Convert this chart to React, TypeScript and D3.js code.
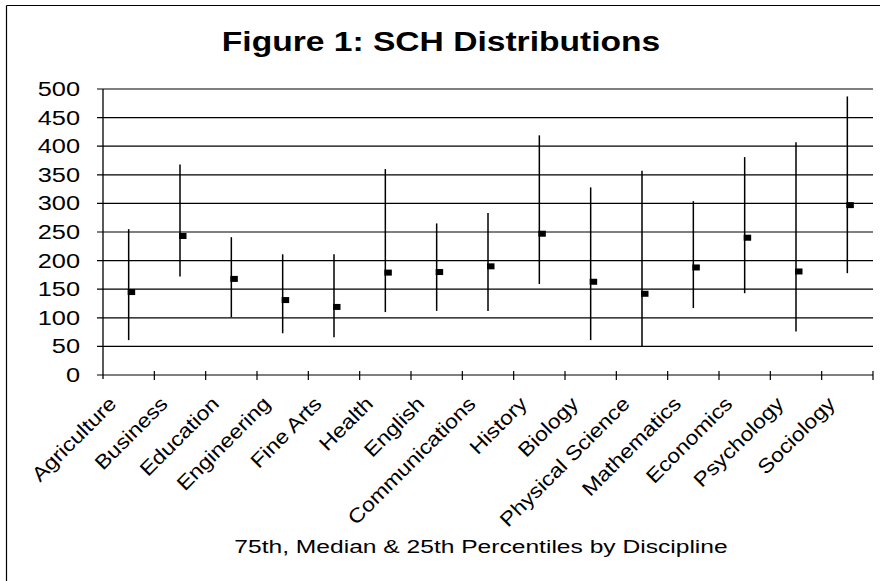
import React from "react";
import * as d3 from "d3";

const categories = [
  "Agriculture", "Business", "Education", "Engineering", "Fine Arts",
  "Health", "English", "Communications", "History", "Biology",
  "Physical Science", "Mathematics", "Economics", "Psychology", "Sociology",
];
const q75 = [255, 368, 241, 211, 211, 360, 265, 283, 419, 328, 357, 304, 381, 407, 487];
const medians = [145, 243, 168, 131, 119, 179, 180, 190, 247, 163, 142, 188, 240, 181, 297];
const q25 = [61, 172, 101, 73, 66, 110, 112, 112, 159, 61, 50, 117, 143, 76, 178];
const yTicks = [0, 50, 100, 150, 200, 250, 300, 350, 400, 450, 500];

const W = 884;
const H = 581;
const FONT = "'Liberation Sans', Arial, sans-serif";

export default function App() {
  const x = d3.scaleBand<string>().domain(categories).range([103, 873]).padding(0);
  const y = d3.scaleLinear().domain([0, 500]).range([375, 89]);
  const bw = x.bandwidth();
  const edges = categories.map((c) => (x(c) as number) + bw);

  return (
    <svg width={W} height={H} style={{ position: "absolute", left: 0, top: 0, background: "#fff" }}>
      {/* frame */}
      <line x1={6.5} y1={5.5} x2={880} y2={5.5} stroke="#000" strokeWidth={1.2} />
      <line x1={6.5} y1={5.5} x2={6.5} y2={H} stroke="#000" strokeWidth={1.2} />

      {/* title */}
      <text
        transform={`translate(441,51) scale(1.2,1)`}
        textAnchor="middle"
        fontFamily={FONT}
        fontWeight="bold"
        fontSize={28}
        fill="#000"
      >
        Figure 1: SCH Distributions
      </text>

      {/* gridlines + y ticks */}
      {yTicks.map((t) => (
        <g key={t}>
          <line x1={97} x2={873} y1={y(t)} y2={y(t)} stroke="#000" strokeWidth={1.2} />
          <text
            transform={`translate(80,${y(t) + 7}) scale(1.3,1)`}
            textAnchor="end"
            fontFamily={FONT}
            fontSize={19.5}
            fill="#000"
          >
            {t}
          </text>
        </g>
      ))}

      {/* y axis */}
      <line x1={103} x2={103} y1={y(500)} y2={y(0) + 4} stroke="#000" strokeWidth={1.3} />
      {/* x axis ticks */}
      {edges.map((e, i) => (
        <line key={i} x1={e} x2={e} y1={y(0) - 4} y2={y(0) + 5} stroke="#000" strokeWidth={1.2} />
      ))}

      {/* ranges and medians */}
      {categories.map((c, i) => {
        const cx = (x(c) as number) + bw / 2;
        return (
          <g key={c}>
            <line x1={cx} x2={cx} y1={y(q75[i])} y2={y(q25[i])} stroke="#000" strokeWidth={1.5} />
            <rect x={cx - 1} y={y(medians[i]) - 3} width={7.5} height={6} fill="#000" />
          </g>
        );
      })}

      {/* x labels */}
      {categories.map((c) => {
        const cx = (x(c) as number) + bw / 2;
        return (
          <text
            key={c}
            transform={`translate(${cx - 11},405) rotate(-45) scale(1.15,1)`}
            textAnchor="end"
            fontFamily={FONT}
            fontSize={20}
            fill="#000"
          >
            {c}
          </text>
        );
      })}

      {/* axis title */}
      <text
        transform={`translate(481,553) scale(1.33,1)`}
        textAnchor="middle"
        fontFamily={FONT}
        fontSize={18.5}
        fill="#000"
      >
        75th, Median &amp; 25th Percentiles by Discipline
      </text>
    </svg>
  );
}
